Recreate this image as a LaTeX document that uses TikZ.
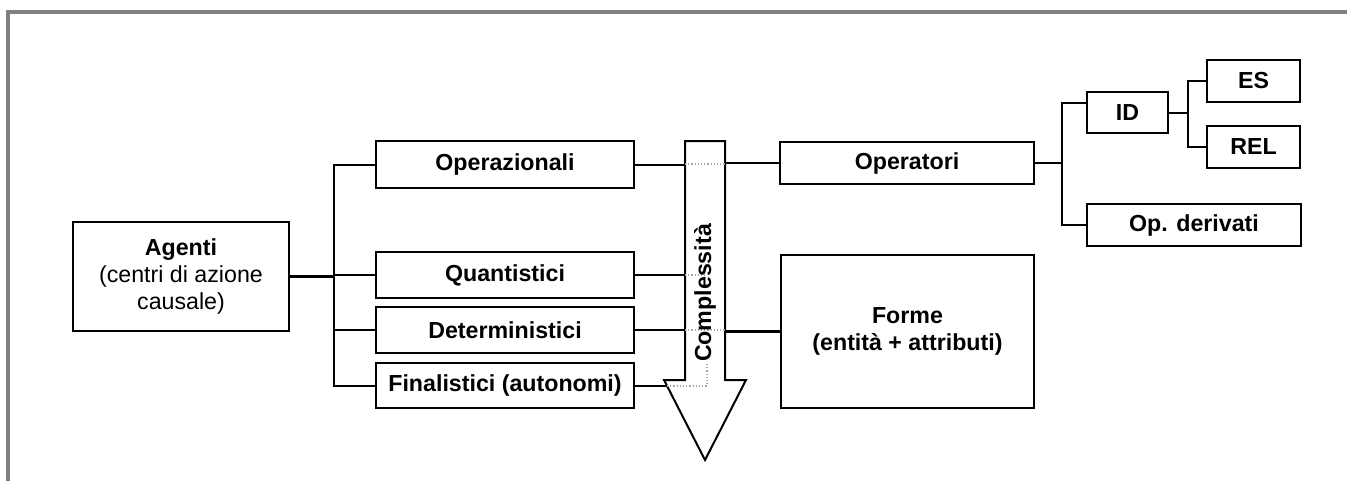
\documentclass[tikz,border=0pt]{standalone}
\usepackage{fontspec}
\setmainfont{Liberation Sans}
\usepackage{tikz}

\begin{document}
\begin{tikzpicture}[x=0.5pt, y=-0.5pt,
        box/.style={draw, line width=1pt, rectangle, inner sep=0pt, align=center,
                    font=\fontsize{11.6}{13.5}\selectfont\bfseries},
        link/.style={line width=1pt},
        hidden/.style={densely dotted, gray!70, line width=0.6pt}]
                \useasboundingbox (0,0) rectangle (1347,481);
                \draw[gray, line width=2pt] (8,481) -- (8,12) -- (1347,12);
                % left side
                \node[box, minimum width=108pt, minimum height=54.5pt, font=\fontsize{11.6}{13.5}\selectfont] (agenti) at (181,276.5) {\textbf{Agenti}\\(centri di azione\\causale)};
                \node[box, minimum width=129pt, minimum height=23.5pt] (oper) at (505,164.5) {Operazionali};
                \node[box, minimum width=129pt, minimum height=23pt] (quant) at (505,275) {Quantistici};
                \node[box, minimum width=129pt, minimum height=23pt] (determ) at (505,330) {Deterministici};
                \node[box, minimum width=129pt, minimum height=22.5pt] (final) at (505,385.5) {Finalistici (autonomi)};
                % right side
                \node[box, minimum width=127pt, minimum height=21pt] (operatori) at (907,163) {Operatori};
                \node[box, minimum width=126.5pt, minimum height=76.5pt] (forme) at (907.5,331.5) {Forme\\(entità + attributi)};
                \node[box, minimum width=40.5pt, minimum height=20.5pt] (id) at (1127.5,112.5) {ID};
                \node[box, minimum width=46.5pt, minimum height=21pt] (es) at (1253.5,81) {ES};
                \node[box, minimum width=46.5pt, minimum height=21pt] (rel) at (1253.5,147) {REL};
                \node[box, minimum width=107pt, minimum height=21pt] (opder) at (1194,225) {Op. derivati};
                \coordinate (arrL) at (685,0);
                \coordinate (arrR) at (725,0);
                % connectors
                \draw[line width=1.5pt] (agenti.east) -- ++(22pt,0) coordinate (trunk);
                \draw[link] (oper.west) -| (trunk) |- (final.west);
                \draw[link] (quant.west) -- (quant.west -| trunk);
                \draw[link] (determ.west) -- (determ.west -| trunk);
                \draw[link] (oper.east) -- (oper.east -| arrL);
                \draw[link] (quant.east) -- (quant.east -| arrL);
                \draw[link] (determ.east) -- (determ.east -| arrL);
                \draw[link] (final.east) -- (final.east -| arrL);
                \draw[link] (operatori.west -| arrR) -- (operatori.west);
                \draw[line width=1.5pt] (forme.west -| arrR) -- (forme.west);
                \draw[link] (operatori.east) -- ++(13.5pt,0) coordinate (fork);
                \draw[link] ([yshift=4.75pt]id.west) -| (fork) |- (opder.west);
                \draw[link] (id.east) -- ++(9.5pt,0) coordinate (fork2);
                \draw[link] (es.west) -| (fork2) |- (rel.west);
                % arrow
                \draw[fill=white, line width=1pt] (685,141) -- (725,141) -- (725,380) -- (746,380) -- (705,460) -- (664,380) -- (685,380) -- cycle;
                \draw[hidden] (685,164) -- (725,164);
                \draw[hidden] (685,275) -- (707,275);
                \draw[hidden] (685,330) -- (725,330);
                \draw[hidden] (667,386) -- (707,386) -- (707,363);
                \node[rotate=90, font=\fontsize{11.6}{13.5}\selectfont\bfseries] (compl) at (705,293) {Complessità};
            \end{tikzpicture}
\end{document}
